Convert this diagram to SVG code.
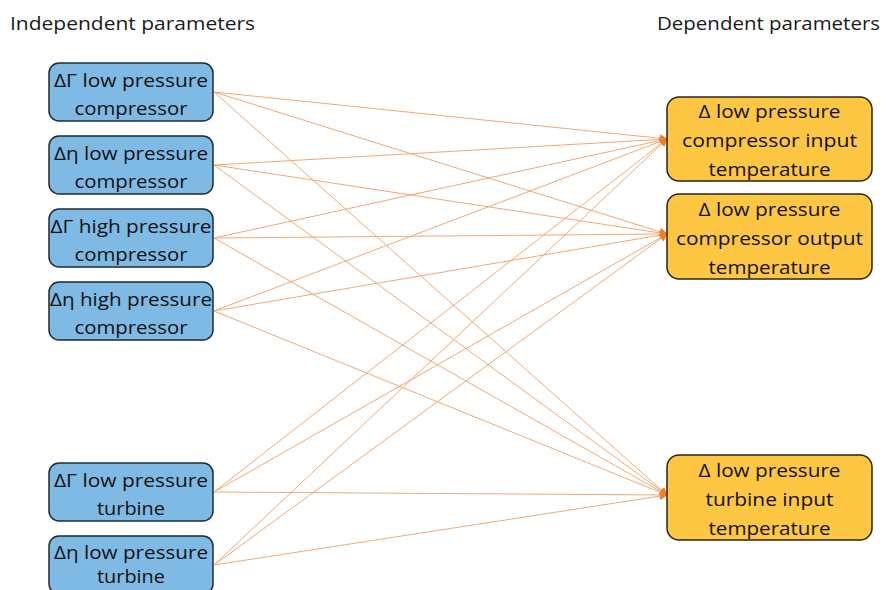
<svg xmlns="http://www.w3.org/2000/svg" width="886" height="590" viewBox="0 0 886 590">
  <defs>
    <marker id="arr" viewBox="0 0 10 10" refX="9" refY="5" markerWidth="8" markerHeight="8" markerUnits="userSpaceOnUse" orient="auto">
      <path d="M0,0 L10,5 L0,10 z" fill="#F07F2A"/>
    </marker>
  </defs>
  <style>
    .hdr { font-family: "Open Sans", "Liberation Sans", sans-serif; font-size: 18px; fill: #1a1a1a; }
    .lbl { font-family: "Open Sans", "Liberation Sans", sans-serif; font-size: 19px; fill: #111; text-anchor: middle; }
    .src { fill: #7EBAE4; stroke: #1f2a33; stroke-width: 1.5; }
    .dst { fill: #FDC744; stroke: #2a2418; stroke-width: 1.5; }
    .edge { stroke: #F2A872; stroke-width: 1; fill: none; marker-end: url(#arr); }
  </style>
  <rect width="886" height="590" fill="#ffffff"/>

  <text class="hdr" x="10" y="30" textLength="245" lengthAdjust="spacingAndGlyphs">Independent parameters</text>
  <text class="hdr" x="657" y="30" textLength="223" lengthAdjust="spacingAndGlyphs">Dependent parameters</text>

  <g id="connectors">
    <line class="edge" x1="214" y1="92" x2="667" y2="139"/>
    <line class="edge" x1="214" y1="92" x2="667" y2="234"/>
    <line class="edge" x1="214" y1="92" x2="667" y2="495"/>
    <line class="edge" x1="214" y1="165" x2="667" y2="139"/>
    <line class="edge" x1="214" y1="165" x2="667" y2="234"/>
    <line class="edge" x1="214" y1="165" x2="667" y2="495"/>
    <line class="edge" x1="214" y1="238" x2="667" y2="139"/>
    <line class="edge" x1="214" y1="238" x2="667" y2="234"/>
    <line class="edge" x1="214" y1="238" x2="667" y2="495"/>
    <line class="edge" x1="214" y1="311" x2="667" y2="139"/>
    <line class="edge" x1="214" y1="311" x2="667" y2="234"/>
    <line class="edge" x1="214" y1="311" x2="667" y2="495"/>
    <line class="edge" x1="214" y1="492" x2="667" y2="139"/>
    <line class="edge" x1="214" y1="492" x2="667" y2="234"/>
    <line class="edge" x1="214" y1="492" x2="667" y2="495"/>
    <line class="edge" x1="214" y1="565" x2="667" y2="139"/>
    <line class="edge" x1="214" y1="565" x2="667" y2="234"/>
    <line class="edge" x1="214" y1="565" x2="667" y2="495"/>
  </g>

  <g id="src-lpc-gamma">
    <rect class="src" x="49" y="63" width="164" height="58" rx="10"/>
    <text class="lbl" x="131" y="87" textLength="154" lengthAdjust="spacingAndGlyphs">ΔΓ low pressure</text>
    <text class="lbl" x="131" y="115" textLength="113" lengthAdjust="spacingAndGlyphs">compressor</text>
  </g>
  <g id="src-lpc-eta">
    <rect class="src" x="49" y="136" width="164" height="58" rx="10"/>
    <text class="lbl" x="131" y="160" textLength="154" lengthAdjust="spacingAndGlyphs">Δη low pressure</text>
    <text class="lbl" x="131" y="188" textLength="113" lengthAdjust="spacingAndGlyphs">compressor</text>
  </g>
  <g id="src-hpc-gamma">
    <rect class="src" x="49" y="209" width="164" height="58" rx="10"/>
    <text class="lbl" x="131" y="233" textLength="161" lengthAdjust="spacingAndGlyphs">ΔΓ high pressure</text>
    <text class="lbl" x="131" y="261" textLength="113" lengthAdjust="spacingAndGlyphs">compressor</text>
  </g>
  <g id="src-hpc-eta">
    <rect class="src" x="49" y="282" width="164" height="58" rx="10"/>
    <text class="lbl" x="131" y="306" textLength="162" lengthAdjust="spacingAndGlyphs">Δη high pressure</text>
    <text class="lbl" x="131" y="334" textLength="113" lengthAdjust="spacingAndGlyphs">compressor</text>
  </g>
  <g id="src-lpt-gamma">
    <rect class="src" x="49" y="463" width="164" height="58" rx="10"/>
    <text class="lbl" x="131" y="487" textLength="154" lengthAdjust="spacingAndGlyphs">ΔΓ low pressure</text>
    <text class="lbl" x="131" y="515" textLength="68" lengthAdjust="spacingAndGlyphs">turbine</text>
  </g>
  <g id="src-lpt-eta">
    <rect class="src" x="49" y="536" width="164" height="58" rx="10"/>
    <text class="lbl" x="131" y="559" textLength="154" lengthAdjust="spacingAndGlyphs">Δη low pressure</text>
    <text class="lbl" x="131" y="583" textLength="68" lengthAdjust="spacingAndGlyphs">turbine</text>
  </g>

  <g id="dst-lpc-in">
    <rect class="dst" x="667" y="97" width="205" height="84" rx="12"/>
    <text class="lbl" x="769.5" y="118" textLength="142" lengthAdjust="spacingAndGlyphs">Δ low pressure</text>
    <text class="lbl" x="769.5" y="147" textLength="175" lengthAdjust="spacingAndGlyphs">compressor input</text>
    <text class="lbl" x="769.5" y="176" textLength="122" lengthAdjust="spacingAndGlyphs">temperature</text>
  </g>
  <g id="dst-lpc-out">
    <rect class="dst" x="667" y="194" width="205" height="85" rx="12"/>
    <text class="lbl" x="769.5" y="216" textLength="142" lengthAdjust="spacingAndGlyphs">Δ low pressure</text>
    <text class="lbl" x="769.5" y="245" textLength="187" lengthAdjust="spacingAndGlyphs">compressor output</text>
    <text class="lbl" x="769.5" y="274" textLength="122" lengthAdjust="spacingAndGlyphs">temperature</text>
  </g>
  <g id="dst-lpt-in">
    <rect class="dst" x="667" y="455" width="205" height="85" rx="12"/>
    <text class="lbl" x="769.5" y="477" textLength="142" lengthAdjust="spacingAndGlyphs">Δ low pressure</text>
    <text class="lbl" x="769.5" y="506" textLength="128" lengthAdjust="spacingAndGlyphs">turbine input</text>
    <text class="lbl" x="769.5" y="535" textLength="122" lengthAdjust="spacingAndGlyphs">temperature</text>
  </g>
</svg>
